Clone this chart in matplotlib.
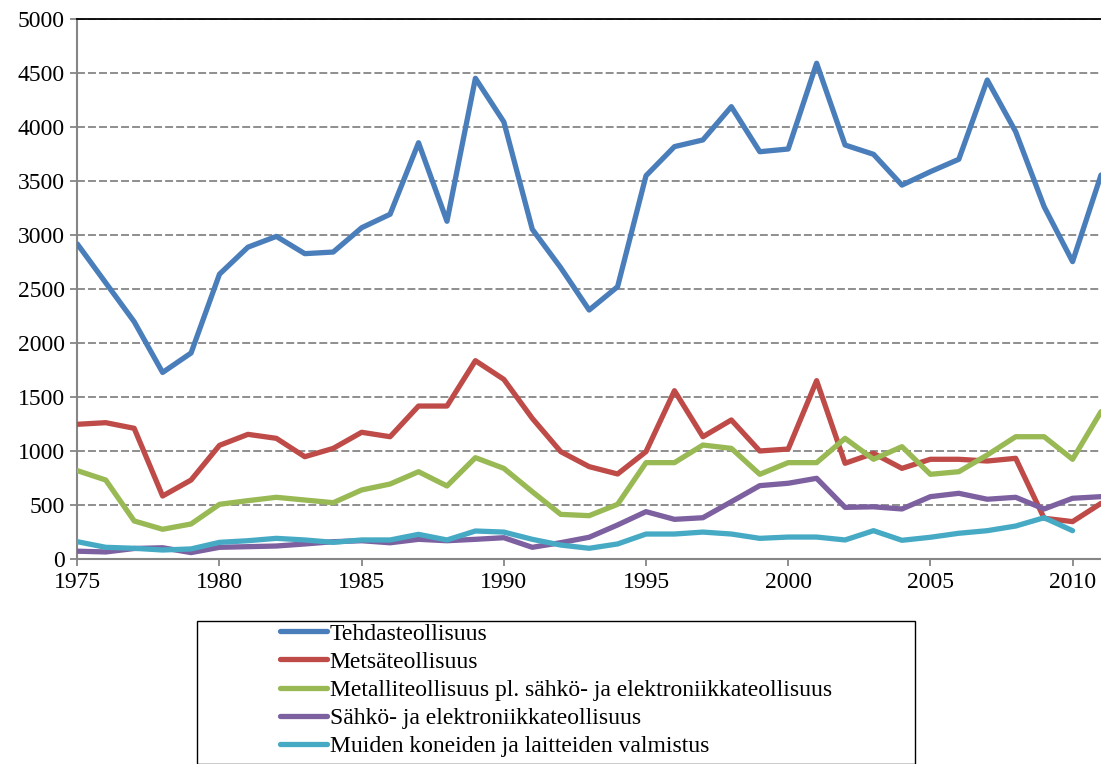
import numpy as np
import matplotlib.pyplot as plt
from matplotlib.patches import Rectangle

plt.rcParams['font.family'] = ['Liberation Serif', 'DejaVu Serif']

years = list(range(1975, 2012))

tehdas = [2920, 2560, 2200, 1730, 1910, 2640, 2890, 2990, 2830, 2845, 3070, 3195,
          3857, 3130, 4454, 4050, 3056, 2700, 2308, 2524, 3552, 3821, 3883, 4191,
          3774, 3799, 4593, 3836, 3750, 3465, 3589, 3704, 4438, 3959, 3265, 2756, 3558]
metsa = [1250, 1265, 1213, 586, 734, 1055, 1157, 1120, 950, 1027, 1176, 1135,
         1419, 1419, 1839, 1666, 1305, 997, 858, 790, 997, 1561, 1135, 1290,
         1003, 1021, 1654, 889, 981, 842, 926, 926, 910, 935, 380, 349, 518]
metalli = [821, 734, 355, 278, 327, 509, 543, 574, 549, 524, 642, 697,
           811, 679, 941, 842, 626, 416, 404, 509, 895, 895, 1058, 1027,
           787, 895, 895, 1120, 926, 1043, 787, 811, 966, 1135, 1135, 926, 1367]
sahko = [75, 68, 100, 107, 62, 111, 117, 123, 142, 163, 172, 153,
         185, 172, 185, 200, 111, 154, 204, 318, 441, 370, 385, 533,
         682, 704, 750, 481, 486, 466, 580, 611, 556, 574, 466, 565, 580]
muut = [163, 111, 102, 86, 96, 157, 172, 194, 179, 157, 179, 179,
        231, 179, 262, 252, 185, 132, 102, 142, 234, 234, 252, 234,
        194, 206, 206, 179, 265, 176, 204, 241, 265, 308, 385, 265, None]

labels = ['Tehdasteollisuus',
          'Metsäteollisuus',
          'Metalliteollisuus pl. sähkö- ja elektroniikkateollisuus',
          'Sähkö- ja elektroniikkateollisuus',
          'Muiden koneiden ja laitteiden valmistus']
colors = ['#4A7EBB', '#BE4B48', '#98B954', '#7D60A0', '#46AAC5']
series = [tehdas, metsa, metalli, sahko, muut]

W, H = 1101, 764
fig = plt.figure(figsize=(W / 100, H / 100), dpi=100)
ax = fig.add_axes([77.3 / W, 1 - 559.3 / H, 1 - 77.3 / W, (559.3 - 19.3) / H])

lines = []
for vals, lab, col in zip(series, labels, colors):
    y = np.array([np.nan if v is None else v for v in vals], dtype=float)
    ln, = ax.plot(years, y, color=col, lw=3.8, label=lab, solid_joinstyle='round',
                  solid_capstyle='round', zorder=3)
    lines.append(ln)

ax.set_xlim(1975, 2011)
ax.set_ylim(0, 5000)
ax.set_yticks(range(0, 5001, 500))
ax.set_xticks(range(1975, 2011, 5))
ax.yaxis.grid(True, color='#868686', lw=1.3, ls=(0, (4.4, 1.7)))
ax.set_axisbelow(True)

for s in ['left', 'bottom']:
    ax.spines[s].set_color('#868686')
    ax.spines[s].set_linewidth(1.5)
ax.spines['top'].set_color('black')
ax.spines['top'].set_linewidth(1.3)
ax.spines['right'].set_visible(False)
ax.tick_params(axis='both', direction='out', width=1.3,
               length=5, labelsize=17, pad=4, labelcolor='black', color='#868686')

# legend box, cut off by the bottom edge
fig.add_artist(Rectangle((197 / W, 0), (915 - 197) / W, 1 - 621 / H,
                         transform=fig.transFigure, fill=False,
                         edgecolor='black', lw=1.0))
fig.legend(handles=lines, loc='upper left', bbox_to_anchor=(280 / W, 1 - 623 / H),
           frameon=False, fontsize=17, handlelength=2.0, handletextpad=0.1,
           labelspacing=0.28, borderpad=0, borderaxespad=0)

fig.savefig('out.png', dpi=100)
